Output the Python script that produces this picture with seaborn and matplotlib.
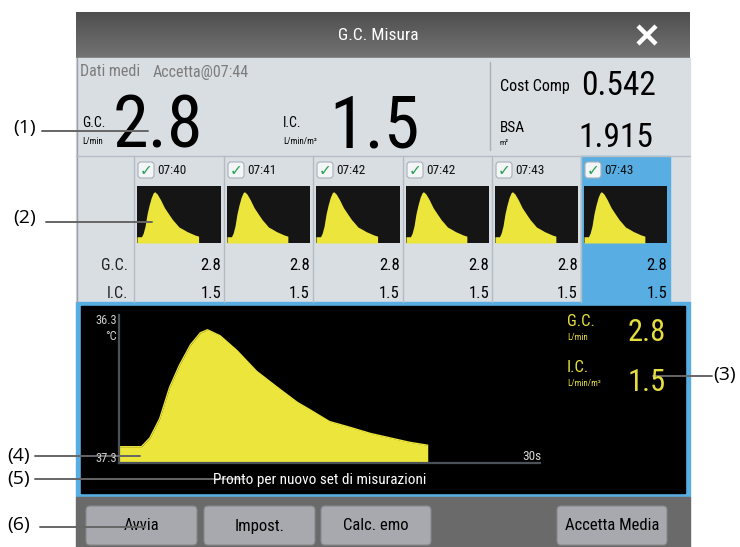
import numpy as np
import matplotlib
matplotlib.use("Agg")
import matplotlib.pyplot as plt
from matplotlib import font_manager
from matplotlib.patches import Rectangle, FancyBboxPatch
import seaborn as sns

# thermodilution curve (s, degC below baseline 37.3)
curve_t = [0, 1.6, 2.2, 2.9, 3.6, 4.3, 5.1, 5.8, 6.3, 7.2, 8.4, 9.8, 11.3,
           12.7, 13.6, 15.0, 16.5, 17.9, 19.3, 20.7, 22.0]
curve_d = [0.11, 0.11, 0.17, 0.30, 0.51, 0.66, 0.80, 0.88, 0.90, 0.86, 0.76,
           0.62, 0.51, 0.41, 0.36, 0.28, 0.24, 0.20, 0.17, 0.14, 0.12]

# measurement history
meas_times = ["07:40", "07:41", "07:42", "07:42", "07:43", "07:43"]
meas_gc = ["2.8", "2.8", "2.8", "2.8", "2.8", "2.8"]
meas_ic = ["1.5", "1.5", "1.5", "1.5", "1.5", "1.5"]

buttons = ["Avvia", "Impost.", "Calc. emo", "Accetta Media"]
callouts = ["(1)", "(2)", "(3)", "(4)", "(5)", "(6)"]

sns.set_theme(style="white")

# pick a narrow face if there is one
names = {f.name for f in font_manager.fontManager.ttflist}
narrow = [n for n in ["Liberation Sans Narrow", "Roboto Condensed", "Open Sans Condensed"] if n in names]
plt.rcParams["font.family"] = narrow + ["DejaVu Sans"]
STRETCH = "condensed"

YELLOW = "#ece53b"
YTEXT = "#e6de3e"
BLUE = "#58aee3"
PANEL = "#d9dee3"
W, H = 740, 547

fig = plt.figure(figsize=(7.4, 5.47), dpi=100)
bg = fig.add_axes([0, 0, 1, 1])
bg.set_xlim(0, W)
bg.set_ylim(H, 0)
bg.axis("off")


def frac(x0, y0, x1, y1):
    return [x0 / W, 1 - y1 / H, (x1 - x0) / W, (y1 - y0) / H]


def txt(x, y, s, size, color="black", ha="left", va="center", where=None, **kw):
    (where or bg).text(x, y, s, fontsize=size, color=color, ha=ha, va=va,
                       fontstretch=STRETCH, **kw)


# title bar
grad = np.linspace(0, 1, 50).reshape(-1, 1)
bg.imshow(grad, extent=[76, 690, 58, 12], cmap=matplotlib.colors.LinearSegmentedColormap.from_list(
    "tb", ["#4f4f4f", "#737373"]), aspect="auto", zorder=1)
txt(378, 35, "G.C. Misura", 12.5, color="white", ha="center")
bg.plot([638, 656], [26, 44], color="white", lw=3.2, solid_capstyle="butt", zorder=3)
bg.plot([638, 656], [44, 26], color="white", lw=3.2, solid_capstyle="butt", zorder=3)

# light panel
bg.add_patch(Rectangle((76, 58), 614, 244, color=PANEL, zorder=1))
bg.plot([76.5, 76.5], [58, 302], color="#9aa0a6", lw=1, zorder=2)
bg.plot([490, 490], [62, 150], color="#a9b0b7", lw=1, zorder=2)
bg.plot([76, 690], [155.5, 155.5], color="#b7bec5", lw=1, zorder=2)

txt(80, 72, "Dati medi", 11.5, color="#7c7c7c")
txt(153, 72, "Accetta@07:44", 11.5, color="#7c7c7c")
txt(82, 123, "G.C.", 10)
txt(82, 141, "L/min", 6.5)
txt(113, 148, "2.8", 52, va="baseline")
txt(283, 123, "I.C.", 10)
txt(283, 141, "L/min/m²", 6.5)
txt(329, 148, "1.5", 52, va="baseline")
txt(500, 86, "Cost Comp", 11.5)
txt(656, 95, "0.542", 24, ha="right", va="baseline")
txt(500, 128, "BSA", 11)
txt(500, 143, "m²", 6)
txt(653, 147, "1.915", 24, ha="right", va="baseline")

# history columns
col_edges = [134, 224, 313, 403, 492, 581, 670]
bg.add_patch(Rectangle((col_edges[-2], 156), col_edges[-1] - col_edges[-2], 146,
                       color=BLUE, zorder=1))
for x in col_edges[:-1]:
    bg.plot([x, x], [156, 302], color="#b4bbc2", lw=1, zorder=2)
txt(128, 265, "G.C.", 11.5, color="#222222", ha="right")
txt(128, 293, "I.C.", 11.5, color="#222222", ha="right")

for i, (tm, gc, ic) in enumerate(zip(meas_times, meas_gc, meas_ic)):
    x0, x1 = col_edges[i], col_edges[i + 1]
    bg.add_patch(FancyBboxPatch((x0 + 4, 162), 16, 16, boxstyle="round,pad=0,rounding_size=3",
                                fc="#f3f5f7", ec="#a8b0b8", lw=0.8, zorder=3))
    bg.text(x0 + 12, 170.5, "\u2713", fontsize=11, color="#25a150", ha="center", va="center",
            family="DejaVu Sans", fontweight="bold", zorder=4)
    txt(x0 + 23, 170, tm, 9.5, color="#111111")
    txt(x1 - 3, 265, gc, 12, ha="right")
    txt(x1 - 3, 293, ic, 12, ha="right")

    th = fig.add_axes(frac(x0 + 3, 186, x1 - 3, 243))
    th.set_facecolor("#151515")
    th.fill_between(curve_t, 0, curve_d, color=YELLOW, lw=0)
    th.set_xlim(0, 30)
    th.set_ylim(0, 1.0)
    th.set_xticks([])
    th.set_yticks([])
    for s in th.spines.values():
        s.set_visible(False)

# big waveform box
bg.add_patch(Rectangle((76, 302), 614, 195, color=BLUE, zorder=1))
bg.add_patch(Rectangle((81, 306), 604, 187, color="black", zorder=2))

ax = fig.add_axes(frac(119, 315, 540, 463))
ax.set_facecolor("none")
sns.lineplot(x=curve_t, y=curve_d, ax=ax, color=YELLOW, lw=1)
ax.fill_between(curve_t, 0, curve_d, color=YELLOW, lw=0)
ax.set_xlim(0, 30)
ax.set_ylim(0, 1)
ax.set_xticks([])
ax.set_yticks([])
for side in ["top", "right"]:
    ax.spines[side].set_visible(False)
for side in ["left", "bottom"]:
    ax.spines[side].set_color("#4b5158")
    ax.spines[side].set_linewidth(1.6)

# overlay for labels and callouts that sit on top of the charts
top = fig.add_axes([0, 0, 1, 1])
top.set_xlim(0, W)
top.set_ylim(H, 0)
top.axis("off")
top.patch.set_alpha(0)

txt(117, 320, "36.3", 9, color="#cfcfcf", ha="right", where=top)
txt(117, 336, "°C", 9, color="#cfcfcf", ha="right", where=top)
txt(117, 459, "37.3", 9, color="#cfcfcf", ha="right", where=top)
txt(541, 457, "30s", 9.5, color="#d8d8d8", ha="right", where=top)
txt(320, 480, "Pronto per nuovo set di misurazioni", 11, color="white", ha="center", where=top)

txt(567, 321, "G.C.", 12, color=YTEXT, where=top)
txt(567, 338, "L/min", 6.5, color=YTEXT, where=top)
txt(666, 341, "2.8", 22, color=YTEXT, ha="right", va="baseline", where=top)
txt(567, 367, "I.C.", 12, color=YTEXT, where=top)
txt(567, 384, "L/min/m²", 6.5, color=YTEXT, where=top)
txt(666, 391, "1.5", 22, color=YTEXT, ha="right", va="baseline", where=top)

# button bar
bg.add_patch(Rectangle((76, 497), 614, 50, color="#6a6a6a", zorder=1))
btn_x = [(86, 197), (204, 315), (321, 431), (557, 667)]
for (x0, x1), lab in zip(btn_x, buttons):
    bg.add_patch(FancyBboxPatch((x0, 506), x1 - x0, 39, boxstyle="round,pad=0,rounding_size=4",
                                fc="#a7a9ae", ec="#85878b", lw=0.8, zorder=2))
    txt((x0 + x1) / 2, 526, lab, 12, ha="center", zorder=3)

# callouts
call_xy = [(25, 128, 42, 148, 131), (25, 218, 46, 152, 222), (725, 375, 653, 712, 376),
           (19, 456, 35, 140, 456), (19, 479, 35, 245, 479), (19, 525, 40, 145, 527)]
for lab, (lx, ly, a, b, yy) in zip(callouts, call_xy):
    top.text(lx, ly, lab, fontsize=14, ha="center", va="center", color="black",
             family=["Open Sans", "DejaVu Sans"])
    top.plot([a, b], [yy, yy], color="#666666", lw=1.4)

fig.savefig("out.png", dpi=100)
